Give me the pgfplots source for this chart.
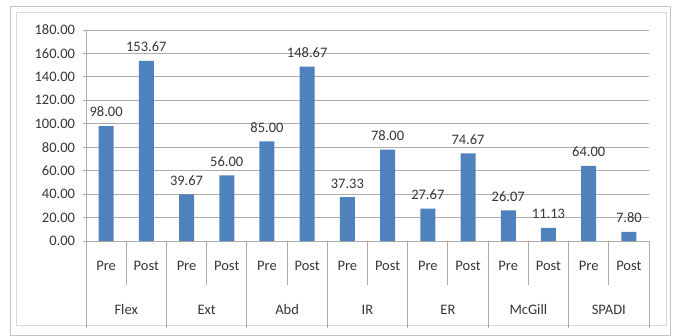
\documentclass[border=0pt]{standalone}
\usepackage{pgfplots}
\pgfplotsset{compat=1.18}
\usepackage{fontspec}
\setmainfont{Carlito}
\definecolor{barblue}{HTML}{4F81BD}
\definecolor{txt}{HTML}{363636}
\definecolor{gridc}{HTML}{ACACAC}
\definecolor{outerc}{HTML}{C4C4C4}
\definecolor{innerc}{HTML}{D9D9D9}
\begin{document}
\fontsize{14.5bp}{17bp}\selectfont
\begin{tikzpicture}
\useasboundingbox (0bp,0bp) rectangle (676bp,336bp);
\draw[outerc, line width=0.8bp] (10bp,1bp) rectangle (670bp,330bp);
\draw[innerc, line width=0.8bp] (16bp,11bp) rectangle (666bp,324bp);
\begin{axis}[
  at={(86bp,95bp)}, anchor=south west,
  scale only axis, width=563bp, height=211bp,
  xmin=-0.5, xmax=13.5, ymin=0, ymax=180,
  clip=false,
  axis x line*=bottom, axis y line*=left,
  axis line style={gridc, line width=0.9bp},
  ytick={0,20,...,180},
  ymajorgrids, grid style={gridc, line width=0.9bp},
  tick align=outside, major tick length=3bp,
  ytick style={gridc, line width=0.9bp},
  xtick style={draw=none},
  /pgf/number format/assume math mode=true,
  yticklabel style={txt, xshift=-3bp, /pgf/number format/.cd, fixed, fixed zerofill, precision=2},
  xtick={0,...,13},
  xticklabels={Pre,Post,Pre,Post,Pre,Post,Pre,Post,Pre,Post,Pre,Post,Pre,Post},
  xticklabel style={txt, anchor=center, yshift=-22bp},
  ybar, bar width=15bp,
]
\addplot[fill=barblue, draw=none,
  nodes near coords,
  every node near coord/.append style={txt, yshift=4bp},
  nodes near coords style={/pgf/number format/.cd, fixed, fixed zerofill, precision=2, assume math mode=true},
] coordinates {
 (0,98.00) (1,153.67) (2,39.67) (3,56.00) (4,85.00) (5,148.67) (6,37.33)
 (7,78.00) (8,27.67) (9,74.67) (10,26.07) (11,11.13) (12,64.00) (13,7.80)
};
% Pre/Post separators
\draw[gridc, line width=0.9bp] (axis cs:0.5,0) -- ([yshift=-44bp]axis cs:0.5,0);
\draw[gridc, line width=0.9bp] (axis cs:2.5,0) -- ([yshift=-44bp]axis cs:2.5,0);
\draw[gridc, line width=0.9bp] (axis cs:4.5,0) -- ([yshift=-44bp]axis cs:4.5,0);
\draw[gridc, line width=0.9bp] (axis cs:6.5,0) -- ([yshift=-44bp]axis cs:6.5,0);
\draw[gridc, line width=0.9bp] (axis cs:8.5,0) -- ([yshift=-44bp]axis cs:8.5,0);
\draw[gridc, line width=0.9bp] (axis cs:10.5,0) -- ([yshift=-44bp]axis cs:10.5,0);
\draw[gridc, line width=0.9bp] (axis cs:12.5,0) -- ([yshift=-44bp]axis cs:12.5,0);
% group separators
\draw[gridc, line width=0.9bp] (axis cs:-0.5,0) -- ([yshift=-87bp]axis cs:-0.5,0);
\draw[gridc, line width=0.9bp] (axis cs:1.5,0) -- ([yshift=-87bp]axis cs:1.5,0);
\draw[gridc, line width=0.9bp] (axis cs:3.5,0) -- ([yshift=-87bp]axis cs:3.5,0);
\draw[gridc, line width=0.9bp] (axis cs:5.5,0) -- ([yshift=-87bp]axis cs:5.5,0);
\draw[gridc, line width=0.9bp] (axis cs:7.5,0) -- ([yshift=-87bp]axis cs:7.5,0);
\draw[gridc, line width=0.9bp] (axis cs:9.5,0) -- ([yshift=-87bp]axis cs:9.5,0);
\draw[gridc, line width=0.9bp] (axis cs:11.5,0) -- ([yshift=-87bp]axis cs:11.5,0);
\draw[gridc, line width=0.9bp] (axis cs:13.5,0) -- ([yshift=-87bp]axis cs:13.5,0);
% group names
\node[txt] at ([yshift=-69bp]axis cs:0.5,0) {Flex};
\node[txt] at ([yshift=-69bp]axis cs:2.5,0) {Ext};
\node[txt] at ([yshift=-69bp]axis cs:4.5,0) {Abd};
\node[txt] at ([yshift=-69bp]axis cs:6.5,0) {IR};
\node[txt] at ([yshift=-69bp]axis cs:8.5,0) {ER};
\node[txt] at ([yshift=-69bp]axis cs:10.5,0) {McGill};
\node[txt] at ([yshift=-69bp]axis cs:12.5,0) {SPADI};
\end{axis}
\end{tikzpicture}
\end{document}
